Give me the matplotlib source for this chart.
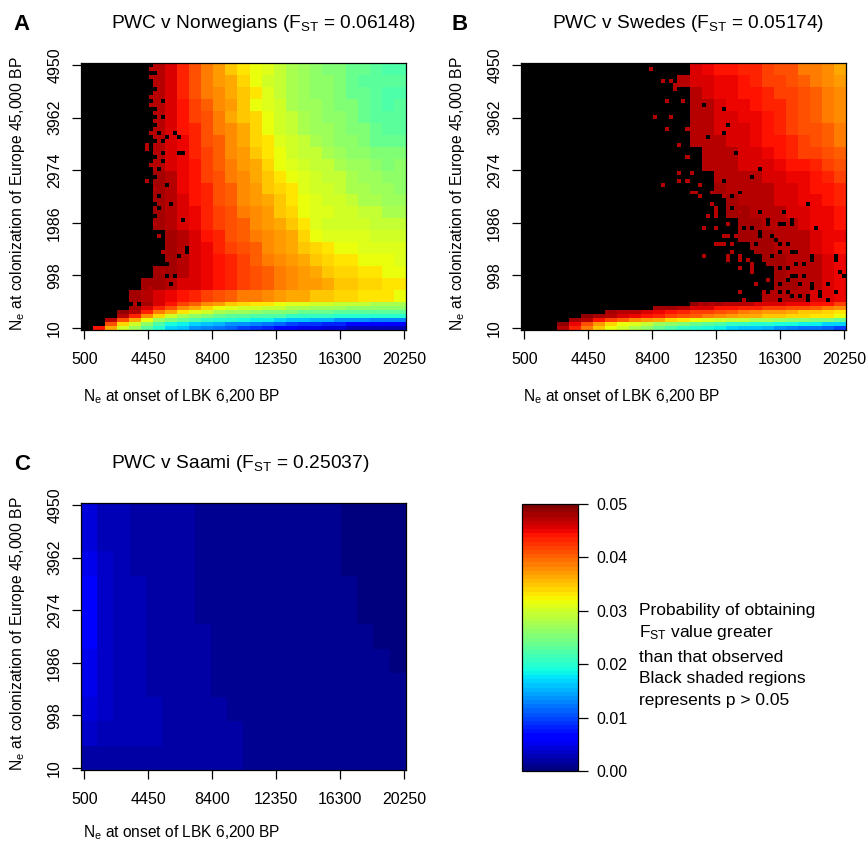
import numpy as np
import matplotlib
matplotlib.use("Agg")
import matplotlib.pyplot as plt
from matplotlib.cm import ScalarMappable
from matplotlib.colors import Normalize

plt.rcParams["font.family"] = ["Liberation Sans", "DejaVu Sans"]
plt.rcParams["mathtext.fontset"] = "custom"
plt.rcParams["mathtext.rm"] = "Liberation Sans"
plt.rcParams["mathtext.default"] = "rm"

# Probabilities x 1000, K means p > 0.05 (black)
K = 99

x_ticks = [500, 4450, 8400, 12350, 16300, 20250]
y_ticks = [10, 998, 1986, 2974, 3962, 4950]
bar_ticks = [0.00, 0.01, 0.02, 0.03, 0.04, 0.05]

# 27 columns; top 20 rows span three fine rows each, bottom 7 rows span one
norwegians = [
    [K]*6 + [47,46,43,41,39,37,35,33,32,31,29,28,27,26,25,25,24,24,23,22,22],
    [K]*6 + [47,46,43,41,39,37,36,34,32,30,29,28,27,26,26,25,24,23,23,23,23],
    [K]*6 + [47,46,43,41,39,38,36,35,33,31,29,28,27,26,26,25,24,24,23,22,22],
    [K]*6 + [47,46,44,42,40,38,37,35,32,31,30,28,27,27,26,25,25,24,23,22,23],
    [K]*6 + [47,46,44,42,41,39,36,35,34,32,30,29,28,27,26,26,25,24,23,23,23],
    [K]*6 + [47,46,44,43,41,39,38,36,34,32,30,29,28,27,27,26,25,25,24,23,23],
    [K]*6 + [47,46,45,43,41,40,38,36,34,33,31,30,29,28,27,26,26,25,24,24,24],
    [K]*6 + [47,46,45,43,42,40,38,37,35,33,32,30,29,29,28,27,26,26,25,25,25],
    [K]*6 + [47,46,45,44,42,40,39,37,36,34,32,31,30,29,29,28,27,27,26,25,26],
    [K]*6 + [48,47,45,44,42,41,39,38,36,35,33,32,31,30,29,29,28,27,27,26,26],
    [K]*6 + [48,47,45,44,43,41,40,38,37,35,34,33,31,30,30,29,28,28,27,27,26],
    [K]*6 + [48,47,46,44,43,41,40,38,37,36,35,33,32,31,30,30,29,28,28,27,27],
    [K]*6 + [48,47,46,45,43,42,41,39,38,37,35,34,32,31,31,30,30,29,29,28,28],
    [K]*6 + [48,47,46,45,43,42,41,40,38,37,36,35,33,31,30,30,30,30,29,29,29],
    [K]*7 + [48,47,46,44,43,41,40,39,38,37,36,34,32,31,31,31,31,30,30,30],
    [K]*7 + [48,47,46,45,43,42,41,40,38,37,36,35,34,33,32,32,31,31,31,31],
    [K]*7 + [48,47,46,45,44,43,42,40,39,38,37,36,35,34,33,33,32,32,32,31],
    [K]*6 + [48,48,47,46,45,44,43,42,41,40,39,38,37,36,35,34,34,33,33,32,32],
    [K]*5 + [48,48,47,46,46,45,44,43,42,41,40,39,38,37,37,36,35,35,34,34,33,33],
    [K]*4 + [48,47,46,45,44,43,42,41,40,39,39,38,37,36,36,35,35,34,34,33,33,33,32],
    [K]*5 + [48,46,44,42,40,38,37,35,34,33,33,32,31,31,30,30,29,29,29,28,28,28],
    [K]*4 + [48,46,43,41,38,36,34,32,31,30,30,29,29,28,28,27,27,27,26,26,26,26,26],
    [K]*3 + [49,47,43,39,36,33,31,30,28,27,27,26,25,25,25,24,24,24,23,23,23,23,23,23],
    [K]*3 + [47,43,38,34,30,28,26,25,24,23,23,22,22,22,21,21,21,21,20,20,20,20,20,20],
    [K]*2 + [47,41,36,32,27,25,24,22,21,20,20,19,18,18,17,16,16,15,15,14,14,14,13,13,13],
    [K]*2 + [41,34,30,26,22,19,18,17,16,15,14,14,13,12,11,10,9,9,8,8,7,7,7,6,6],
    [K]*1 + [44,36,30,27,23,20,17,16,14,13,12,11,10,9,8,7,6,5,5,4,4,3,3,3,3,3],
]

swedes = [
    [K]*14 + [46,45,44,44,43,43,42,41,41,39,39,38,36],
    [K]*13 + [47,46,46,45,45,44,43,42,42,41,40,39,38,37],
    [K]*14 + [47,46,45,45,44,44,43,42,42,41,40,39,38],
    [K]*14 + [47,47,46,45,45,44,43,43,42,41,40,39,38],
    [K]*14 + [47,47,46,46,45,45,44,43,42,41,40,39,38],
    [K]*14 + [47,47,46,46,46,45,44,43,42,41,41,40,39],
    [K]*14 + [47,47,47,46,46,45,44,44,43,42,41,40,39],
    [K]*15 + [47,47,47,46,46,45,44,43,42,42,41,40],
    [K]*15 + [47,47,47,46,46,46,45,44,44,43,42,41],
    [K]*16 + [47,47,47,47,46,46,45,45,44,43,42],
    [K]*16 + [48,47,47,47,47,46,46,45,44,44,43],
    [K]*17 + [48,47,47,47,46,46,45,45,44,43],
    [K]*17 + [48,48,47,47,47,46,46,45,45,44],
    [K]*18 + [48,48,47,47,47,46,45,45,44],
    [K]*18 + [48,48,48,47,47,47,46,45,45],
    [K]*19 + [48,48,47,47,47,46,45,44],
    [K]*20 + [48,48,47,47,47,46,45],
    [K]*21 + [48,47,47,47,46,45],
    [K]*21 + [48,48,47,47,46,45],
    [K]*20 + [47,47,47,47,46,46,45],
    [K]*14 + [49,48,48,47,47,46,46,46,45,45,44,44,42],
    [K]*11 + [48,48,47,46,46,44,44,43,43,42,42,41,41,40,39,38],
    [K]*7 + [48,47,47,46,45,44,43,42,42,41,40,39,38,37,37,36,35,35,34,33],
    [K]*5 + [49,48,47,46,45,44,43,42,41,40,39,38,37,36,36,35,35,34,34,33,33,32],
    [K]*4 + [48,47,44,42,40,38,37,36,34,33,32,31,30,29,29,28,28,27,26,26,25,25,24],
    [K]*3 + [49,45,41,37,34,32,31,29,27,26,25,24,23,22,21,21,20,20,19,19,18,18,17,17],
    [K]*3 + [47,43,39,35,32,30,28,26,24,22,21,20,19,18,17,16,16,15,14,13,12,12,11,10],
]

# coarser grid, this panel is nearly flat
saami = [
    [4.0,2.8,2.4,2.1,1.9,1.7,1.6,1.4,1.3,1.2,1.1,1.0,0.9,0.9,0.8,0.8,0.7,0.7,0.6,0.6],
    [4.6,3.0,2.6,2.2,2.0,1.8,1.6,1.5,1.3,1.2,1.1,1.0,1.0,0.9,0.8,0.8,0.7,0.7,0.6,0.6],
    [5.2,3.2,2.7,2.3,2.0,1.8,1.6,1.5,1.4,1.2,1.1,1.0,1.0,0.9,0.8,0.8,0.7,0.7,0.7,0.6],
    [6.0,3.4,2.8,2.4,2.1,1.9,1.7,1.5,1.4,1.2,1.1,1.0,1.0,0.9,0.9,0.8,0.8,0.7,0.7,0.6],
    [5.6,3.5,2.9,2.5,2.2,1.9,1.7,1.5,1.4,1.3,1.2,1.1,1.0,0.9,0.9,0.8,0.8,0.7,0.7,0.7],
    [5.8,3.6,3.0,2.6,2.3,2.0,1.8,1.6,1.4,1.3,1.2,1.1,1.0,1.0,0.9,0.9,0.8,0.8,0.7,0.7],
    [5.4,3.6,3.0,2.6,2.3,2.0,1.8,1.6,1.5,1.3,1.2,1.1,1.0,1.0,0.9,0.9,0.8,0.8,0.8,0.7],
    [5.0,3.6,3.0,2.6,2.3,2.1,1.8,1.6,1.5,1.4,1.2,1.1,1.1,1.0,1.0,1.0,0.9,0.9,0.8,0.8],
    [4.2,3.4,3.0,2.7,2.4,2.1,1.9,1.7,1.6,1.4,1.3,1.2,1.2,1.1,1.1,1.0,1.0,1.0,0.9,0.9],
    [3.4,3.0,2.8,2.6,2.4,2.2,2.0,1.8,1.7,1.6,1.4,1.3,1.3,1.3,1.2,1.2,1.1,1.1,1.0,1.0],
    [2.2,2.3,2.3,2.3,2.2,2.1,1.9,1.8,1.7,1.6,1.5,1.4,1.3,1.3,1.3,1.2,1.2,1.1,1.1,1.0],
]

# single cells that stand out on the fine 81 x 67 grid: (column, row)
norwegians_red = [(16,20),(16,29),(17,25),(17,1),(17,3),(17,8),(17,10),(17,17),(18,31),
                  (18,40),(19,43),(17,56),(13,60),(16,58),(20,47),(20,52),(16,21),(18,26)]
norwegians_black = [(23,17),(21,18),(24,22),(21,30),(22,35),(25,39),(26,46),(26,47),(24,48),
                    (21,50),(22,55),(21,53),(23,53),(20,9),(20,13),(24,18),(20,19),(25,22),
                    (20,22),(20,24),(18,2),(18,6),(18,11),(18,13),(18,15),(19,17),(18,19),
                    (18,23),(19,26),(18,28),(19,33),(19,36),(18,35),(18,38)]
swedes_red = [(32,1),(35,4),(37,4),(38,5),(36,9),(33,13),(37,13),(36,16),(41,16),(39,20),
              (41,23),(39,27),(42,27),(41,29),(35,30),(39,29),(42,32),(44,33),(44,30),(46,38),
              (48,38),(45,41),(48,36),(45,48),(51,48),(54,48),(54,51),(57,50),(58,55),(49,45),
              (51,43),(38,6),(40,9),(42,10),(40,5),(43,10),(43,32),(47,32),(47,35),(50,33),
              (48,37),(46,38),(54,37),(48,41),(51,40),(50,43),(53,43),(50,45),(48,45),(52,45),
              (52,47),(51,49),(54,49),(56,49),(57,51),(54,51),(57,52),(54,57),(61,54),(61,57),
              (44,60),(47,60),(50,60),(55,59),(57,60)]
swedes_black = [(46,18),(50,17),(51,15),(59,26),(57,28),(50,29),(52,33),(54,32),(50,11),(45,10),
                (53,22),(71,35),(65,37),(67,39),(61,39),(64,40),(73,41),(62,43),(64,45),(67,47),
                (72,48),(78,48),(66,51),(70,50),(62,53),(67,53),(79,52),(59,55),(64,55),(69,55),
                (72,55),(76,55),(61,57),(66,57),(74,57),(78,57),(69,58),(71,59),(57,47),(58,45),
                (52,36),(59,37),(55,41),(57,41),(62,48),(60,50),(61,40),(67,40),(65,40),(59,43),
                (63,44),(66,45),(59,42),(64,47),(68,47),(72,49),(78,49),(64,51),(68,50),(68,53),
                (70,53),(66,54),(69,55),(72,56),(64,57),(76,59),(80,53),(74,58),(71,58),(67,58),
                (64,59)]

W, H = 867, 844
cmap = plt.get_cmap("jet", 64).copy()
cmap.set_over("black")
norm = Normalize(0, 0.05)


def fine_grid(rows, red, black):
    g = np.repeat(np.array(rows, dtype=float), 3, axis=1)
    g = np.repeat(g, [3]*20 + [1]*7, axis=0)
    for c, r in red:
        g[r, c] = 47
    for c, r in black:
        g[r, c] = K
    return g / 1000


def px_axes(left, top, right, bottom):
    return fig.add_axes([left/W, 1 - bottom/H, (right-left)/W, (bottom-top)/H])


def panel(left, top, grid, letter, letter_x, title, title_x, label_x, xlabel_drop=334):
    right, bottom = left + 325, top + 267
    ax = px_axes(left, top, right, bottom)
    ax.imshow(grid, cmap=cmap, norm=norm, aspect="auto", interpolation="nearest",
              extent=(284, 20374, -28, 4988))
    ax.set_xticks(x_ticks)
    ax.set_yticks(y_ticks)
    ax.tick_params(length=6.5, width=0.9, labelsize=11.5)
    ax.tick_params(axis="x", pad=9)
    ax.tick_params(axis="y", pad=7, labelrotation=90)
    for t in ax.get_yticklabels():
        t.set_va("center")
    for s in ax.spines.values():
        s.set_linewidth(0.9)
    fig.text(letter_x/W, 1-(top-39)/H, letter, fontsize=16, fontweight="bold", ha="center", va="center")
    fig.text(title_x/W, 1-(top-39)/H, title, fontsize=13.8, ha="center", va="center")
    fig.text(label_x/W, 1-(top+131)/H, r"N$_{\mathrm{e}}$ at colonization of Europe 45,000 BP",
             fontsize=11.3, rotation=90, ha="center", va="center")
    fig.text((left+2)/W, 1-(top+xlabel_drop)/H, r"N$_{\mathrm{e}}$ at onset of LBK 6,200 BP",
             fontsize=11.2, ha="left", va="center")


fig = plt.figure(figsize=(W/100, H/100), dpi=100)

panel(81, 63, fine_grid(norwegians, norwegians_red, norwegians_black), "A", 22,
      r"PWC v Norwegians (F$_{\mathrm{ST}}$ = 0.06148)", 264, 18)
panel(521, 63, fine_grid(swedes, swedes_red, swedes_black), "B", 460,
      r"PWC v Swedes (F$_{\mathrm{ST}}$ = 0.05174)", 688, 458)
panel(81, 503, np.array(saami)/1000, "C", 22,
      r"PWC v Saami (F$_{\mathrm{ST}}$ = 0.25037)", 240, 18, xlabel_drop=330)

# colour key
cax = px_axes(522, 504, 578, 771)
cb = fig.colorbar(ScalarMappable(norm=norm, cmap=cmap), cax=cax, ticks=bar_ticks)
cb.ax.set_yticklabels(["%.2f" % v for v in bar_ticks])
cb.ax.tick_params(length=7, width=0.9, labelsize=11.5, pad=6)
cb.outline.set_linewidth(0.9)

key_lines = ["Probability of obtaining", r"F$_{\mathrm{ST}}$ value greater", "than that observed",
             "Black shaded regions", "represents p > 0.05"]
for line, y in zip(key_lines, [611, 633, 657, 679, 701]):
    fig.text(639/W, 1-y/H, line, fontsize=12.5, ha="left", va="center")

fig.savefig("out.png", dpi=100)
